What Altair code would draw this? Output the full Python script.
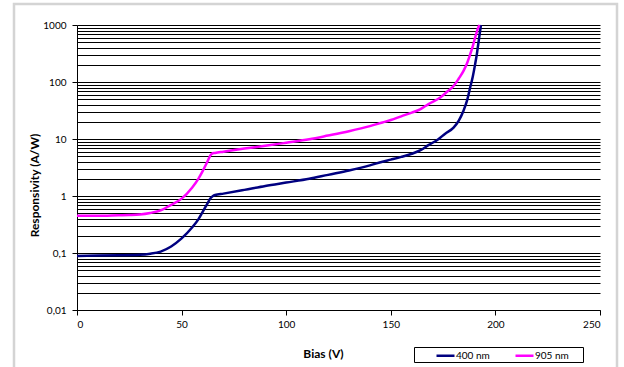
import altair as alt
import pandas as pd

# ---- data ----
x_400 = [0, 10, 20, 30, 35, 40, 45, 50, 55, 58, 60, 62, 64, 65, 66, 70, 80, 90, 100, 111,
         120, 130, 140, 146, 150, 155, 160, 164, 168, 172.7, 176, 180, 182.5, 184.7, 186.5,
         187.9, 189.2, 190.3, 191.2, 191.8, 192.5, 193.1]
y_400 = [0.089, 0.090, 0.091, 0.093, 0.097, 0.106, 0.13, 0.18, 0.28, 0.39, 0.52, 0.70, 0.93,
         1.0, 1.04, 1.1, 1.28, 1.5, 1.72, 2.0, 2.35, 2.8, 3.45, 4.0, 4.35, 4.85, 5.5, 6.3,
         7.8, 9.9, 12.4, 15.8, 21, 31, 48, 79, 125, 204, 320, 460, 700, 1000]

x_905 = [0, 10, 20, 25, 30, 35, 40, 45, 50, 55, 58, 60, 62, 64.4, 66, 70, 80, 90, 100, 111,
         120, 130, 140, 146, 150, 155, 160, 164, 168, 173.5, 177, 180, 182.5, 184.7, 186.5,
         188, 189.3, 190.3, 191.3, 192.3]
y_905 = [0.45, 0.45, 0.46, 0.465, 0.475, 0.505, 0.56, 0.70, 0.90, 1.4, 2.0, 2.7, 3.8, 5.5,
         5.7, 6.0, 6.8, 7.6, 8.6, 9.9, 11.5, 13.7, 16.8, 19.5, 21.5, 25, 29, 33, 41, 53, 68,
         85, 115, 155, 215, 310, 440, 600, 800, 1000]

series_names = ["400 nm", "905 nm"]
series_colors = ["#000080", "#FF00FF"]

x_ticks = [0, 50, 100, 150, 200, 250]
y_majors = [0.01, 0.1, 1, 10, 100, 1000]
y_grid = [round(d * k, 4) for d in [0.01, 0.1, 1, 10, 100] for k in range(1, 10)] + [1000]

df = pd.concat([
    pd.DataFrame({"Bias": x_400, "Resp": y_400, "Series": series_names[0]}),
    pd.DataFrame({"Bias": x_905, "Resp": y_905, "Series": series_names[1]}),
], ignore_index=True)

FONT = "Lato"
major_test = "indexof([0.01,0.1,1,10,100,1000], datum.value) >= 0"

lines = alt.Chart(df).mark_line(strokeWidth=2.5, interpolate="monotone").encode(
    x=alt.X("Bias:Q",
            scale=alt.Scale(domain=[0, 250], nice=False, zero=False),
            axis=alt.Axis(values=x_ticks, title="Bias (V)", grid=False,
                          domainColor="black", tickColor="black", tickSize=5,
                          labelPadding=4, labelFontSize=10, labelColor="black",
                          labelFont=FONT, titleFont=FONT, titleFontSize=12,
                          titleFontWeight="bold", titleColor="black",
                          titleX=246, titleY=43, titleBaseline="middle")),
    y=alt.Y("Resp:Q",
            scale=alt.Scale(type="log", domain=[0.01, 1000], nice=False, clamp=True),
            axis=alt.Axis(values=y_grid, title="Responsivity (A/W)", grid=True,
                          gridColor="black", gridWidth=1, gridOpacity=1,
                          domainColor="black",
                          tickColor={"condition": {"test": major_test, "value": "black"},
                                     "value": "transparent"},
                          tickSize=5, labelPadding=6, labelOverlap=False,
                          format=".2~f",
                          labelExpr=major_test + " ? replace(datum.label, '.', ',') : ''",
                          labelFontSize=10, labelColor="black", labelFont=FONT,
                          titleFont=FONT, titleFontSize=12, titleFontWeight="bold",
                          titleColor="black", titleAngle=-90, titleX=-43, titleY=160,
                          titleAlign="center", titleBaseline="middle")),
    color=alt.Color("Series:N",
                    scale=alt.Scale(domain=series_names, range=series_colors),
                    legend=alt.Legend(title=None, orient="none", legendX=358, legendY=320,
                                      direction="horizontal", columns=2,
                                      symbolType="stroke", symbolSize=324,
                                      symbolStrokeWidth=2.5, labelOffset=0,
                                      columnPadding=20, padding=0,
                                      labelFont=FONT, labelFontSize=10,
                                      labelColor="black")),
)

dummy = pd.DataFrame({"a": [0]})
border = alt.Chart(dummy).mark_rect(fill=None, stroke="#d4d4d4", strokeWidth=2.5).encode(
    x=alt.value(-63), x2=alt.value(540), y=alt.value(-21), y2=alt.value(360))
legend_box = alt.Chart(dummy).mark_rect(fill=None, stroke="black", strokeWidth=1).encode(
    x=alt.value(337.5), x2=alt.value(506.5), y=alt.value(322.5), y2=alt.value(337.5))

chart = alt.layer(border, lines, legend_box).properties(
    width=523, height=285,
    autosize=alt.AutoSizeParams(type="none"),
    padding={"left": 77, "top": 25, "right": 24, "bottom": 57},
    background="white",
).configure_view(stroke=None)

chart.save("out.html", embed_options={"renderer": "svg", "actions": False})
